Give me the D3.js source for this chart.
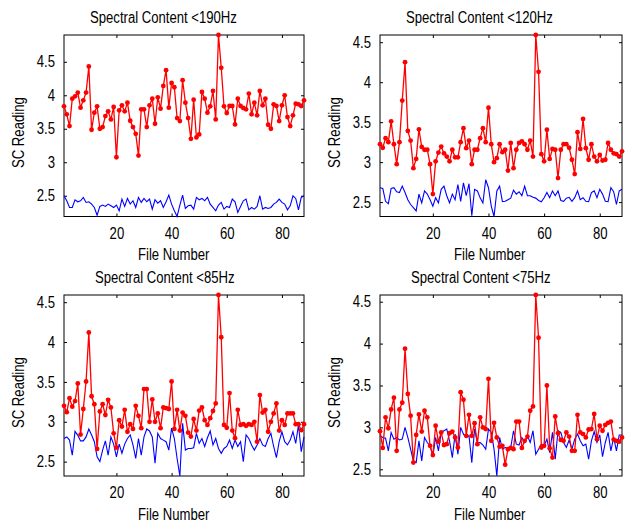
<!DOCTYPE html>
<html>
<head>
<meta charset="utf-8">
<script src="https://cdn.jsdelivr.net/npm/d3@7"></script>
<style>
  body { margin: 0; background: #fff; }
  text { font-family: "Liberation Sans", Arial, sans-serif; }
</style>
</head>
<body>
<div id="chart"></div>
<script>
// titles / labels
const titles = ["Spectral Content <190Hz", "Spectral Content <120Hz", "Spectral Content <85Hz", "Spectral Content <75Hz"];
const xLabel = "File Number";
const yLabel = "SC Reading";
const xTicks = [20, 40, 60, 80];
const yTicks = [2.5, 3, 3.5, 4, 4.5];
const yTickLabels = ["2.5", "3", "3.5", "4", "4.5"];

// series (file 1..88)
const red190 = [3.835, 3.715, 3.54, 3.95, 3.985, 4.04, 3.815, 3.925, 4.04, 4.43,
  3.485, 3.74, 3.835, 3.5, 3.525, 3.69, 3.76, 3.64, 3.825, 3.075,
  3.775, 3.85, 3.76, 3.89, 3.62, 3.525, 3.425, 3.1, 3.79, 3.79,
  3.525, 3.85, 3.95, 3.575, 3.97, 3.8, 4.14, 4.375, 3.815, 4.185,
  4.12, 3.66, 3.615, 4.225, 3.89, 3.66, 3.35, 3.935, 3.37, 3.415,
  4.05, 3.95, 3.74, 3.835, 4.065, 3.64, 4.9, 4.41, 3.835, 3.735,
  3.84, 3.84, 3.565, 3.95, 3.84, 3.81, 3.79, 4.025, 3.715, 3.89,
  3.7, 4.065, 3.85, 3.95, 3.56, 3.5, 3.865, 3.84, 3.615, 3.85,
  4.0, 3.675, 3.54, 3.7, 3.875, 3.865, 3.84, 3.925];
const blue190 = [2.50, 2.425, 2.325, 2.325, 2.44, 2.41, 2.425, 2.475, 2.40, 2.41,
  2.375, 2.325, 2.21, 2.34, 2.36, 2.34, 2.375, 2.35, 2.325, 2.36,
  2.275, 2.45, 2.34, 2.46, 2.375, 2.425, 2.325, 2.475, 2.40, 2.46,
  2.41, 2.45, 2.30, 2.44, 2.39, 2.425, 2.325, 2.41, 2.51, 2.375,
  2.275, 2.19, 2.36, 2.51, 2.31, 2.35, 2.36, 2.30, 2.475, 2.44,
  2.46, 2.425, 2.475, 2.375, 2.325, 2.275, 2.36, 2.40, 2.30, 2.34,
  2.325, 2.45, 2.41, 2.25, 2.34, 2.425, 2.45, 2.29, 2.325, 2.30,
  2.34, 2.50, 2.30, 2.325, 2.31, 2.325, 2.375, 2.40, 2.45, 2.40,
  2.375, 2.29, 2.35, 2.50, 2.46, 2.29, 2.475, 2.50];

const red120 = [3.225, 3.18, 3.30, 3.25, 3.51, 3.225, 2.975, 3.25, 3.77, 4.25,
  3.39, 3.27, 2.925, 3.04, 3.41, 3.19, 3.155, 3.155, 2.975, 2.60,
  3.01, 3.12, 3.195, 3.11, 3.07, 3.01, 3.155, 3.06, 3.06, 3.25,
  3.425, 3.175, 3.27, 2.975, 3.155, 3.155, 3.30, 3.425, 3.25, 3.68,
  3.225, 3.00, 3.05, 3.225, 3.125, 3.155, 2.895, 3.24, 2.925, 3.155,
  3.24, 3.26, 3.225, 3.155, 3.27, 3.07, 4.59, 4.13, 3.10, 3.01,
  3.405, 3.04, 3.165, 3.155, 2.80, 3.155, 3.225, 3.225, 3.18, 3.03,
  2.85, 3.375, 3.165, 3.54, 3.175, 3.03, 3.225, 3.07, 3.01, 3.09,
  3.02, 3.03, 3.24, 3.155, 3.11, 3.10, 3.07, 3.135];
const blue120 = [2.68, 2.67, 2.51, 2.48, 2.67, 2.68, 2.63, 2.62, 2.70, 2.62,
  2.53, 2.47, 2.43, 2.39, 2.60, 2.49, 2.64, 2.60, 2.53, 2.45,
  2.555, 2.49, 2.66, 2.70, 2.58, 2.49, 2.60, 2.53, 2.72, 2.51,
  2.74, 2.58, 2.73, 2.33, 2.66, 2.64, 2.555, 2.49, 2.78, 2.68,
  2.45, 2.32, 2.64, 2.70, 2.505, 2.51, 2.53, 2.55, 2.65, 2.60,
  2.63, 2.58, 2.70, 2.58, 2.58, 2.56, 2.55, 2.52, 2.505, 2.555,
  2.62, 2.555, 2.64, 2.58, 2.64, 2.52, 2.51, 2.55, 2.56, 2.51,
  2.555, 2.64, 2.53, 2.555, 2.51, 2.505, 2.62, 2.64, 2.555, 2.66,
  2.60, 2.51, 2.505, 2.68, 2.63, 2.47, 2.64, 2.66];

const red85 = [3.20, 3.12, 3.295, 3.19, 3.26, 3.48, 2.84, 3.16, 3.505, 4.12,
  3.32, 3.22, 2.66, 3.13, 3.22, 3.085, 3.275, 3.18, 2.855, 2.675,
  3.02, 2.94, 3.15, 2.875, 2.97, 2.91, 3.20, 3.075, 2.92, 3.41,
  3.41, 3.00, 3.28, 3.00, 3.105, 2.92, 3.18, 3.17, 3.16, 3.505,
  2.91, 3.15, 2.89, 3.115, 3.075, 2.865, 2.815, 3.035, 2.89, 3.14,
  3.18, 3.02, 2.96, 3.045, 3.135, 3.23, 4.59, 4.06, 2.96, 2.925,
  3.36, 2.89, 2.795, 3.15, 2.96, 2.97, 2.95, 2.97, 2.96, 3.00,
  2.75, 3.335, 3.115, 3.15, 2.875, 3.00, 3.105, 3.23, 2.89, 3.02,
  2.96, 3.105, 3.105, 3.105, 2.97, 2.97, 2.895, 2.97];
const blue85 = [2.79, 2.81, 2.77, 2.58, 2.88, 2.83, 2.76, 2.76, 2.81, 2.91,
  2.835, 2.75, 2.56, 2.50, 2.645, 2.76, 2.58, 2.81, 2.72, 2.56,
  2.72, 2.605, 2.72, 2.79, 2.835, 2.71, 2.54, 2.79, 2.58, 2.81,
  2.91, 2.885, 2.81, 2.48, 2.855, 2.79, 2.77, 2.75, 2.645, 2.92,
  2.79, 2.54, 2.32, 2.98, 2.645, 2.665, 2.665, 2.675, 2.855, 2.73,
  2.79, 2.69, 2.80, 2.885, 2.71, 2.79, 2.665, 2.605, 2.665, 2.69,
  2.77, 2.665, 2.77, 2.69, 2.75, 2.50, 2.835, 2.79, 2.71, 2.645,
  2.71, 2.79, 2.71, 2.69, 2.79, 2.855, 2.69, 2.55, 2.75, 2.875,
  2.75, 2.71, 2.77, 2.875, 2.73, 2.96, 2.625, 2.81];

const red75 = [2.955, 2.755, 3.12, 2.99, 3.215, 3.355, 2.72, 3.215, 3.295, 3.94,
  3.40, 3.14, 2.58, 2.91, 3.155, 2.95, 3.20, 3.12, 2.78, 2.67,
  3.02, 2.83, 2.94, 2.79, 2.80, 2.93, 2.95, 2.88, 2.76, 3.42,
  3.33, 2.90, 3.15, 2.90, 3.05, 2.80, 3.12, 3.00, 2.98, 3.58,
  2.84, 3.055, 2.88, 2.77, 2.78, 2.555, 2.74, 2.755, 2.74, 3.07,
  3.07, 2.755, 2.84, 2.89, 3.20, 3.25, 4.58, 4.07, 2.76, 2.78,
  3.50, 2.75, 2.64, 3.13, 2.93, 2.85, 2.84, 2.94, 2.89, 2.72,
  2.72, 3.15, 2.94, 2.92, 2.88, 2.975, 2.98, 3.16, 2.86, 3.02,
  2.96, 3.03, 3.055, 3.07, 2.855, 2.84, 2.83, 2.88];
const blue75 = [2.90, 2.88, 2.87, 2.72, 2.94, 2.86, 2.88, 2.85, 2.86, 3.00,
  2.88, 2.74, 2.60, 2.58, 2.84, 2.60, 2.88, 2.82, 2.78, 2.66,
  2.88, 2.72, 2.94, 2.96, 2.98, 2.84, 2.64, 2.92, 2.68, 3.00,
  2.92, 2.88, 2.90, 2.58, 2.98, 2.82, 2.82, 2.79, 2.74, 2.98,
  2.94, 2.74, 2.42, 2.88, 2.74, 2.76, 2.75, 2.76, 2.96, 2.80,
  2.79, 2.88, 2.82, 2.90, 2.82, 2.96, 2.68, 2.74, 2.80, 2.78,
  2.86, 2.70, 2.94, 2.62, 2.96, 2.94, 2.82, 2.76, 2.85, 2.74,
  2.86, 2.92, 2.84, 2.78, 2.80, 2.62, 2.84, 2.95, 2.82, 2.91,
  2.65, 2.82, 2.94, 2.72, 2.88, 2.72, 2.91, 2.91];

// layout
const width = 625, height = 523;
const cols = [{ left: 64, right: 304 }, { left: 380, right: 622 }];
const rows = [{ top: 35, bottom: 216.5 }, { top: 295, bottom: 476 }];
const titleShift = [26, 26, 31, 31]; // title start offset from box left (matlab centring)
const squeeze = 0.82; // narrow glyphs like the original renderer

const panels = [
  { title: titles[0], red: red190, blue: blue190, col: 0, row: 0 },
  { title: titles[1], red: red120, blue: blue120, col: 1, row: 0 },
  { title: titles[2], red: red85, blue: blue85, col: 0, row: 1 },
  { title: titles[3], red: red75, blue: blue75, col: 1, row: 1 }
];

const svg = d3.select("#chart").append("svg")
  .attr("width", width).attr("height", height)
  .style("background", "#fff");

panels.forEach((p, k) => {
  const c = cols[p.col], r = rows[p.row];
  const g = svg.append("g");

  const x = d3.scaleLinear().domain([1, p.red.length]).range([c.left, c.right]);
  const y = d3.scaleLinear()
    .domain(d3.extent(p.red.concat(p.blue)))
    .range([r.bottom, r.top]);

  // box
  g.append("rect")
    .attr("x", c.left).attr("y", r.top)
    .attr("width", c.right - c.left).attr("height", r.bottom - r.top)
    .attr("fill", "none").attr("stroke", "#000").attr("stroke-width", 1);

  // axes, ticks inward on all four sides
  const fontSize = "16px";
  g.append("g")
    .attr("transform", `translate(0,${r.bottom})`)
    .call(d3.axisBottom(x).tickValues(xTicks).tickSize(-3).tickPadding(11).tickFormat(d3.format("d")));
  g.append("g")
    .attr("transform", `translate(${c.left},0)`)
    .call(d3.axisLeft(y).tickValues(yTicks).tickSize(-3).tickPadding(11)
      .tickFormat((d, i) => yTickLabels[i]));
  g.append("g")
    .attr("transform", `translate(0,${r.top})`)
    .call(d3.axisTop(x).tickValues(xTicks).tickSize(-3).tickFormat(""));
  g.append("g")
    .attr("transform", `translate(${c.right},0)`)
    .call(d3.axisRight(y).tickValues(yTicks).tickSize(-3).tickFormat(""));

  g.selectAll(".domain").remove();
  g.selectAll(".tick line").attr("stroke", "#000");
  g.selectAll(".tick text")
    .attr("fill", "#000")
    .attr("transform", `scale(${squeeze},1)`)
    .style("font-size", fontSize);

  // lines
  const line = d3.line().x((d, i) => x(i + 1)).y(d => y(d));

  g.append("path")
    .datum(p.blue)
    .attr("d", line)
    .attr("fill", "none")
    .attr("stroke", "#0000ff")
    .attr("stroke-width", 1.1);

  g.append("path")
    .datum(p.red)
    .attr("d", line)
    .attr("fill", "none")
    .attr("stroke", "#ff0000")
    .attr("stroke-width", 1.3);

  g.selectAll(".dot")
    .data(p.red)
    .enter().append("circle")
    .attr("cx", (d, i) => x(i + 1))
    .attr("cy", d => y(d))
    .attr("r", 2.4)
    .attr("fill", "#ff0000");

  // title
  g.append("text")
    .attr("transform", `translate(${c.left + titleShift[k]},${r.top - 12}) scale(${squeeze},1)`)
    .attr("fill", "#000")
    .style("font-size", fontSize)
    .text(p.title);

  // x label
  g.append("text")
    .attr("transform", `translate(${c.left + 74},${r.bottom + 43.5}) scale(${squeeze},1)`)
    .attr("fill", "#000")
    .style("font-size", fontSize)
    .text(xLabel);

  // y label
  g.append("text")
    .attr("transform", `translate(${c.left - 40},${r.top + 133}) rotate(-90) scale(${squeeze},1)`)
    .attr("fill", "#000")
    .style("font-size", fontSize)
    .text(yLabel);
});
</script>
</body>
</html>
